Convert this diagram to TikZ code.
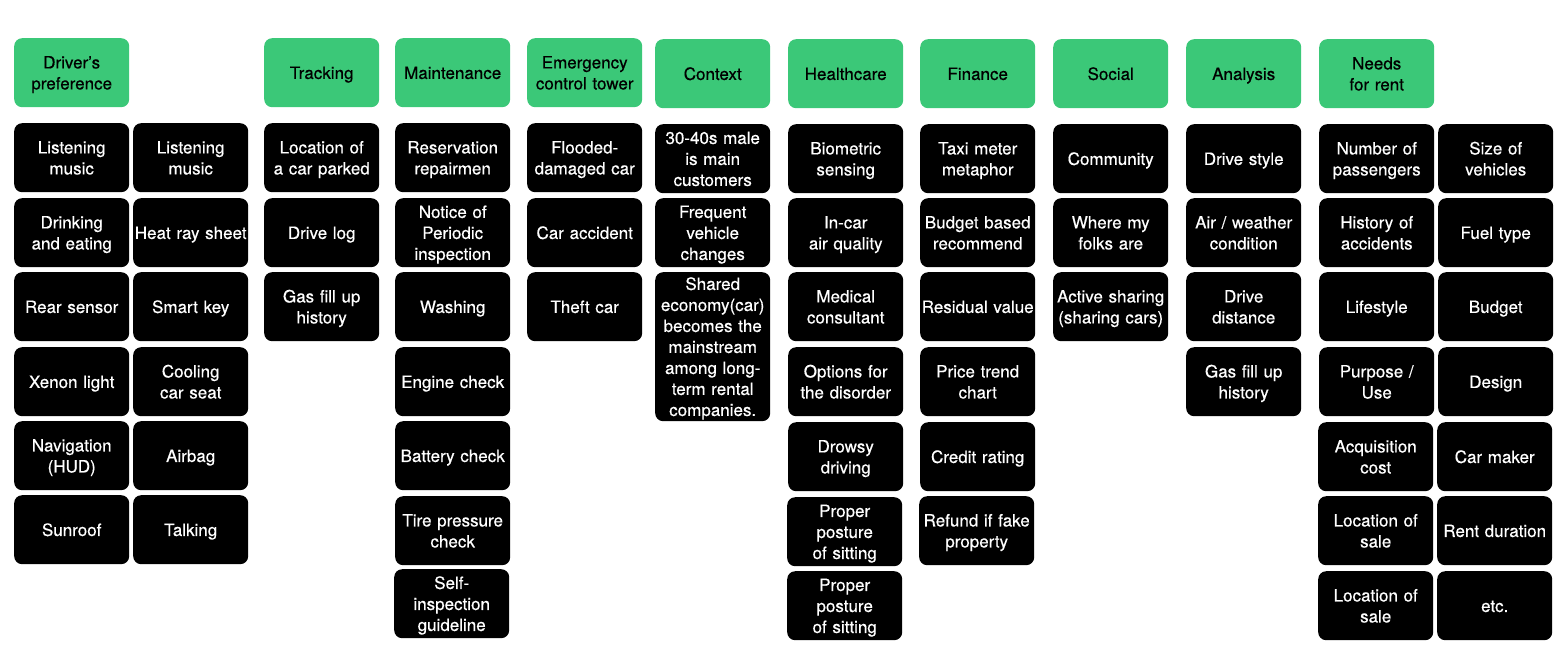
\documentclass[tikz,border=0pt]{standalone}
\usepackage{fontspec}
\setmainfont{TeX Gyre Heros}[FakeBold=0.5]
\definecolor{hdrgreen}{HTML}{3BC878}
\begin{document}
\begin{tikzpicture}[x=1pt,y=1pt,
  card/.style={rectangle, rounded corners=8pt, inner sep=0pt, anchor=north west,
    minimum width=115pt, minimum height=69pt, text width=115pt, align=center,
    font=\fontsize{17}{21}\selectfont,
    execute at begin node={\rule{0pt}{16.5pt}},
    execute at end node={\rule[-4pt]{0pt}{4pt}}},
  head/.style={card, fill=hdrgreen, text=black},
  item/.style={card, fill=black, text=white},
  tall/.style={item, minimum height=149pt}]
\useasboundingbox (0,0) rectangle (1565,-656);
% headers
\node[head] (h1) at (14,-38) {Driver’s\\preference};
\node[head] (h3) at (264,-38) {Tracking};
\node[head] (h4) at (395,-38) {Maintenance};
\node[head] (h5) at (527,-38) {Emergency\\control tower};
\node[head] (h6) at (655,-39) {Context};
\node[head] (h7) at (788,-39) {Healthcare};
\node[head] (h8) at (920,-39) {Finance};
\node[head] (h9) at (1053,-39) {Social};
\node[head] (h10) at (1186,-39) {Analysis};
\node[head] (h11) at (1319,-39) {Needs\\for rent};
% Driver's preference a
\node[item] (a1) at (14,-123) {Listening\\music};
\node[item] (a2) at (14,-198) {Drinking\\and eating};
\node[item] (a3) at (14,-272) {Rear sensor};
\node[item] (a4) at (14,-347) {Xenon light};
\node[item] (a5) at (14,-421) {Navigation\\(HUD)};
\node[item] (a6) at (14,-495) {Sunroof};
% Driver's preference b
\node[item] (b1) at (133,-123) {Listening\\music};
\node[item] (b2) at (133,-198) {Heat ray sheet};
\node[item] (b3) at (133,-272) {Smart key};
\node[item] (b4) at (133,-347) {Cooling\\car seat};
\node[item] (b5) at (133,-421) {Airbag};
\node[item] (b6) at (133,-495) {Talking};
% Tracking
\node[item] (t1) at (264,-123) {Location of\\a car parked};
\node[item] (t2) at (264,-198) {Drive log};
\node[item] (t3) at (264,-272) {Gas fill up\\history};
% Maintenance
\node[item] (m1) at (395,-123) {Reservation\\repairmen};
\node[item] (m2) at (395,-198) {Notice of\\Periodic\\inspection};
\node[item] (m3) at (395,-272) {Washing};
\node[item] (m4) at (395,-347) {Engine check};
\node[item] (m5) at (395,-421) {Battery check};
\node[item] (m6) at (395,-496) {Tire pressure\\check};
\node[item] (m7) at (394,-569) {Self-\\inspection\\guideline};
% Emergency
\node[item] (e1) at (527,-123) {Flooded-\\damaged car};
\node[item] (e2) at (527,-198) {Car accident};
\node[item] (e3) at (527,-272) {Theft car};
% Context
\node[item] (c1) at (655,-124) {30-40s male\\is main\\customers};
\node[item] (c2) at (655,-198) {Frequent\\vehicle\\changes};
\node[tall] (c3) at (655,-272) {Shared\\economy(car)\\becomes the\\mainstream\\among long-\\term rental\\companies.};
% Healthcare
\node[item] (k1) at (788,-124) {Biometric\\sensing};
\node[item] (k2) at (788,-198) {In-car\\air quality};
\node[item] (k3) at (788,-272) {Medical\\consultant};
\node[item] (k4) at (788,-347) {Options for\\the disorder};
\node[item] (k5) at (788,-422) {Drowsy\\driving};
\node[item] (k6) at (787,-497) {Proper\\posture\\of sitting};
\node[item] (k7) at (787,-571) {Proper\\posture\\of sitting};
% Finance
\node[item] (f1) at (920,-124) {Taxi meter\\metaphor};
\node[item] (f2) at (920,-198) {Budget based\\recommend};
\node[item] (f3) at (920,-272) {Residual value};
\node[item] (f4) at (920,-347) {Price trend\\chart};
\node[item] (f5) at (920,-422) {Credit rating};
\node[item] (f6) at (919,-496) {Refund if fake\\property};
% Social
\node[item] (s1) at (1053,-124) {Community};
\node[item] (s2) at (1053,-198) {Where my\\folks are};
\node[item] (s3) at (1053,-272) {Active sharing\\(sharing cars)};
% Analysis
\node[item] (n1) at (1186,-124) {Drive style};
\node[item] (n2) at (1186,-198) {Air / weather\\condition};
\node[item] (n3) at (1186,-272) {Drive\\distance};
\node[item] (n4) at (1186,-347) {Gas fill up\\history};
% Needs for rent a
\node[item] (r1) at (1319,-124) {Number of\\passengers};
\node[item] (r2) at (1319,-198) {History of\\accidents};
\node[item] (r3) at (1319,-272) {Lifestyle};
\node[item] (r4) at (1319,-347) {Purpose /\\Use};
\node[item] (r5) at (1318,-422) {Acquisition\\cost};
\node[item] (r6) at (1318,-496) {Location of\\sale};
\node[item] (r7) at (1318,-571) {Location of\\sale};
% Needs for rent b
\node[item] (q1) at (1438,-124) {Size of\\vehicles};
\node[item] (q2) at (1438,-198) {Fuel type};
\node[item] (q3) at (1438,-272) {Budget};
\node[item] (q4) at (1438,-347) {Design};
\node[item] (q5) at (1437,-422) {Car maker};
\node[item] (q6) at (1437,-496) {Rent duration};
\node[item] (q7) at (1437,-571) {etc.};
\end{tikzpicture}
\end{document}
